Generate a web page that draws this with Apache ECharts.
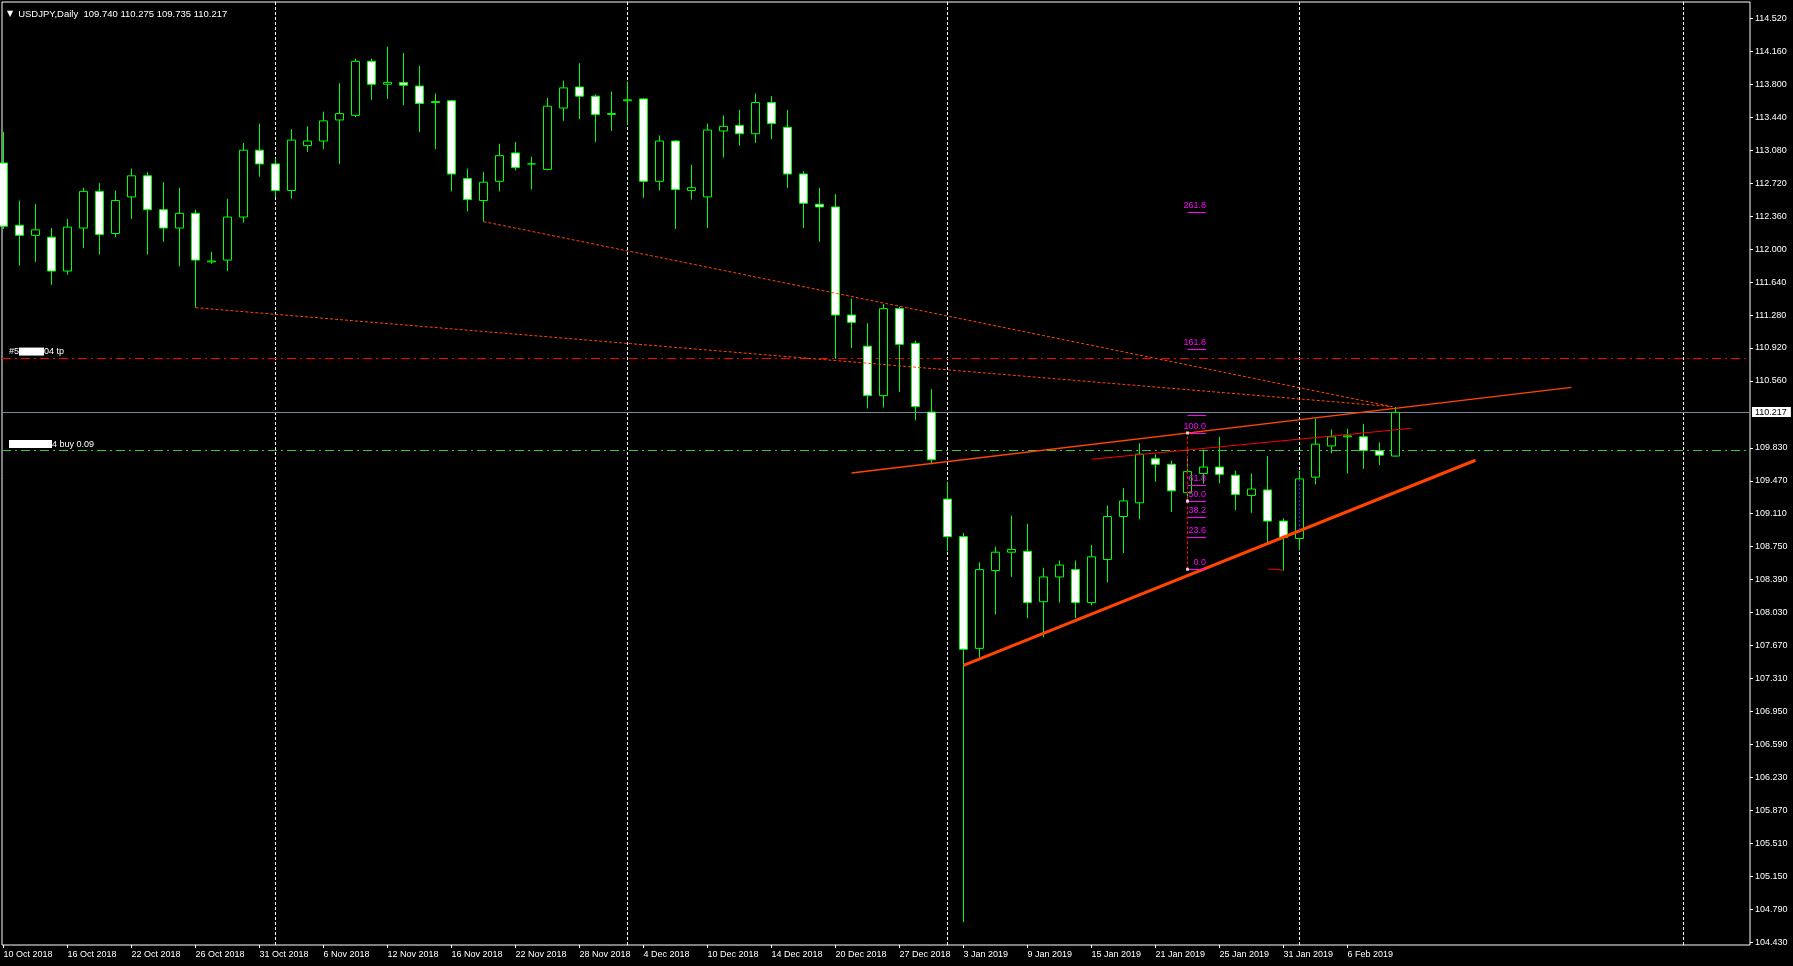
<!DOCTYPE html>
<html><head><meta charset="utf-8">
<script src="https://cdn.jsdelivr.net/npm/echarts@6/dist/echarts.min.js"></script>
<style>html,body{margin:0;padding:0;background:#000;overflow:hidden}#c{width:1793px;height:966px}</style>
</head><body><div id="c"></div>
<script>
// ---- data ----
const xTickBars = [0,4,8,12,16,20,24,28,32,36,40,44,48,52,56,60,64,68,72,76,80,84];
const xTickLabels = ['10 Oct 2018','16 Oct 2018','22 Oct 2018','26 Oct 2018','31 Oct 2018','6 Nov 2018','12 Nov 2018','16 Nov 2018','22 Nov 2018','28 Nov 2018','4 Dec 2018','10 Dec 2018','14 Dec 2018','20 Dec 2018','27 Dec 2018','3 Jan 2019','9 Jan 2019','15 Jan 2019','21 Jan 2019','25 Jan 2019','31 Jan 2019','6 Feb 2019'];
const yTickValues = [114.52,114.16,113.80,113.44,113.08,112.72,112.36,112.00,111.64,111.28,110.92,110.56,109.83,109.47,109.11,108.75,108.39,108.03,107.67,107.31,106.95,106.59,106.23,105.87,105.51,105.15,104.79,104.43];

const opens  = [112.94,112.26,112.15,112.13,111.76,112.23,112.63,112.17,112.57,112.80,112.43,112.23,112.39,111.86,111.88,112.35,113.08,112.93,112.64,113.13,113.18,113.41,113.46,114.05,113.80,113.82,113.78,113.61,113.62,112.77,112.53,112.74,113.05,112.93,112.87,113.54,113.77,113.67,113.47,113.62,113.64,112.74,113.18,112.64,112.57,113.29,113.35,113.26,113.60,113.33,112.82,112.49,112.46,111.28,110.94,110.40,111.35,110.97,110.22,109.27,108.86,107.64,108.49,108.69,108.70,108.15,108.42,108.50,108.14,108.61,109.08,109.23,109.71,109.65,109.34,109.55,109.62,109.53,109.31,109.37,109.03,108.84,109.51,109.85,109.95,109.95,109.80,109.740];
const highs  = [113.28,112.53,112.49,112.23,112.33,112.67,112.72,112.64,112.88,112.84,112.73,112.67,112.43,111.97,112.55,113.16,113.37,112.99,113.31,113.34,113.50,113.81,114.08,114.08,114.21,114.14,114.00,113.70,113.63,112.88,112.84,113.15,113.17,113.01,113.65,113.84,114.03,113.69,113.72,113.83,113.65,113.24,113.19,112.92,113.37,113.46,113.52,113.70,113.67,113.52,112.85,112.67,112.60,111.46,111.19,111.40,111.37,111.00,110.47,109.46,108.90,108.58,108.75,109.09,109.00,108.52,108.60,108.60,108.77,109.20,109.39,109.88,109.76,109.69,109.74,109.81,109.95,109.58,109.55,109.74,109.06,109.58,110.15,110.03,110.04,110.09,109.89,110.275];
const lows   = [112.22,111.82,111.86,111.61,111.72,112.01,111.94,112.13,112.33,111.94,112.08,111.81,111.36,111.84,111.76,112.29,112.79,112.57,112.55,113.06,113.09,112.93,113.44,113.63,113.64,113.57,113.28,113.09,112.63,112.41,112.30,112.63,112.86,112.65,112.86,113.40,113.42,113.17,113.29,113.36,112.56,112.64,112.22,112.54,112.23,113.00,113.13,113.16,113.20,112.67,112.23,112.08,110.80,110.92,110.26,110.27,110.44,110.13,109.65,108.70,104.65,107.53,108.01,108.42,107.97,107.76,108.14,107.97,108.11,108.36,108.68,109.05,109.46,109.13,109.22,109.44,109.44,109.15,109.12,108.80,108.49,108.71,109.43,109.77,109.55,109.60,109.64,109.735];
const closes = [112.25,112.15,112.21,111.76,112.24,112.63,112.16,112.53,112.80,112.43,112.23,112.39,111.88,111.87,112.35,113.08,112.93,112.64,113.19,113.18,113.40,113.48,114.05,113.80,113.82,113.79,113.59,113.60,112.82,112.54,112.73,113.02,112.89,112.93,113.56,113.76,113.67,113.47,113.48,113.63,112.74,113.18,112.65,112.67,113.30,113.34,113.26,113.60,113.37,112.82,112.50,112.46,111.28,111.20,110.40,111.35,110.96,110.28,109.70,108.86,107.63,108.50,108.69,108.72,108.14,108.42,108.55,108.14,108.64,109.08,109.25,109.76,109.65,109.36,109.57,109.62,109.54,109.32,109.38,109.03,108.85,109.49,109.87,109.95,109.96,109.80,109.75,110.217];

const separatorBars = [17,39,59,81,105];
const bidPrice = 110.217;
const tpPrice = 110.807;
const buyPrice = 109.803;
const dottedTrendA = [[30,112.30],[86.8,110.28]];
const dottedTrendB = [[12,111.36],[86.8,110.28]];
const upperChannel = [[53,109.555],[98,110.49]];
const redTrend = [[68,109.705],[88,110.043]];
const supportTrend = [[60,107.455],[92,109.694]];
const fibBar = 74, fibBarEnd = 75.16, fibLow = 108.504, fibHigh = 109.992;
const fibLevels = [0,23.6,38.2,50,61.8,100,161.8,261.8];
const fibExtraLine = 110.185;
const orderMarker = [[79.04,108.504],[79.5,108.504],[79.5,108.493],[79.98,108.493]];
const orderLink = [[81,108.93],[81,109.48]];

// ---- chart ----
const FONT = 'Liberation Sans, Arial, sans-serif';
const candleData = opens.map((o,i)=>[i, o, closes[i], lows[i], highs[i]]);
const chart = echarts.init(document.getElementById('c'), null, {renderer:'canvas'});

const fibMark = fibLevels.map(l => {
  const p = fibLow + (fibHigh - fibLow) * l / 100;
  return [{name: l.toFixed(1), coord:[fibBar, p]}, {coord:[fibBarEnd, p]}];
});
fibMark.push([{name:'', coord:[fibBar, fibExtraLine]}, {coord:[fibBarEnd, fibExtraLine]}]);

const trendLine = (name, data, color, width, type) => ({
  name, type:'line', data, symbol:'none', z:3, silent:true, animation:false,
  lineStyle:{color, width, type}
});

chart.setOption({
  backgroundColor:'#000',
  animation:false,
  title:{
    text:'{tri|▼} {t|USDJPY,Daily  109.740 110.275 109.735 110.217}',
    left:7, top:5, padding:0,
    textStyle:{fontWeight:'normal', rich:{
      tri:{color:'#fff', fontSize:8, fontWeight:'normal', fontFamily:'DejaVu Sans'},
      t:{color:'#fff', fontSize:9.5, fontWeight:'normal', fontFamily:FONT}}}
  },
  grid:{left:2, top:2, width:1748, height:943, show:true, borderColor:'#fff', borderWidth:1, backgroundColor:'#000'},
  xAxis:{
    type:'value', min:-0.094, max:109.156,
    axisLine:{show:false, onZero:false}, splitLine:{show:false},
    axisTick:{show:true, customValues:xTickBars, length:3, lineStyle:{color:'#fff'}},
    axisLabel:{customValues:xTickBars, formatter:v=>xTickLabels[xTickBars.indexOf(Math.round(v))],
      color:'#fff', fontSize:9, fontFamily:FONT, align:'left', margin:5}
  },
  yAxis:{
    type:'value', position:'right', min:104.401, max:114.698, scale:true,
    axisLine:{show:false, onZero:false}, splitLine:{show:false},
    axisTick:{show:true, customValues:yTickValues, length:3, lineStyle:{color:'#fff'}},
    axisLabel:{customValues:yTickValues, formatter:v=>v.toFixed(3), color:'#fff', fontSize:9, fontFamily:FONT, margin:5}
  },
  series:[
    {
      name:'levels', type:'line', data:[], silent:true, z:1,
      markLine:{
        silent:true, symbol:['none','none'], z:1, animation:false,
        data:[
          ...separatorBars.map(b=>({xAxis:b, lineStyle:{color:'#fff', type:[3,2], width:1}, label:{show:false}})),
          {yAxis:tpPrice, lineStyle:{color:'#ff0000', type:[9,4,2,4], width:1},
            label:{show:true, position:'insideStartTop', distance:[7,2], formatter:'{t|#5}{r| }{t|04 tp}',
              rich:{t:{color:'#fff', fontSize:9, fontFamily:FONT}, r:{width:25, height:8, backgroundColor:'#fff'}}}},
          {yAxis:buyPrice, lineStyle:{color:'#32cd32', type:[9,4,2,4], width:1},
            label:{show:true, position:'insideStartTop', distance:[7,2], formatter:'{r| }{t|4 buy 0.09}',
              rich:{t:{color:'#fff', fontSize:9, fontFamily:FONT}, r:{width:43, height:8, backgroundColor:'#fff'}}}},
          {yAxis:bidPrice, lineStyle:{color:'#778899', type:'solid', width:1},
            label:{show:true, position:'end', distance:2, formatter:bidPrice.toFixed(3), color:'#000',
              backgroundColor:'#fff', padding:[1,4,0,3], fontSize:9, fontFamily:FONT}}
        ]
      }
    },
    {
      name:'USDJPY', type:'candlestick', data:candleData, encode:{x:0, y:[1,2,3,4]},
      barWidth:9, z:2, clip:true, silent:true,
      itemStyle:{color:'#000', color0:'#fff', borderColor:'#00ff00', borderColor0:'#00ff00', borderColorDoji:'#00ff00', borderWidth:1}
    },
    trendLine('trendA', dottedTrendA, '#ff4500', 1, [3,2]),
    trendLine('trendB', dottedTrendB, '#ff4500', 1, [3,2]),
    trendLine('upper', upperChannel, '#ff4500', 1.3, 'solid'),
    trendLine('red', redTrend, '#ff0000', 1, 'solid'),
    trendLine('support', supportTrend, '#ff4500', 3, 'solid'),
    trendLine('orderMarker', orderMarker, '#ff0000', 1, 'solid'),
    trendLine('orderLink', orderLink, '#2040ff', 1, [2,2]),
    {
      name:'fib', type:'line', data:[[fibBar, fibLow],[fibBar, fibHigh]], symbol:'none', z:4, silent:true,
      lineStyle:{color:'#ff0000', width:1, type:[3,2]},
      markLine:{
        silent:true, symbol:['none','none'], z:4, animation:false,
        lineStyle:{color:'#ff00ff', width:1, type:'solid'},
        label:{show:true, position:'insideEndTop', distance:[0,2], formatter:'{b}', color:'#ff00ff', fontSize:9, fontFamily:FONT},
        data:fibMark
      }
    },
    {
      name:'fibAnchors', type:'scatter', z:5, silent:true,
      data:[[fibBar, fibHigh],[fibBar, (fibHigh+fibLow)/2],[fibBar, fibLow]],
      symbol:'rect', symbolSize:3, itemStyle:{color:'#fff'}
    }
  ]
});
</script></body></html>
